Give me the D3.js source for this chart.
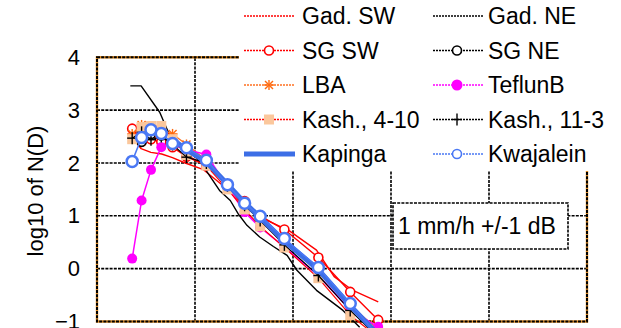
<!DOCTYPE html>
<html><head><meta charset="utf-8">
<script src="https://cdn.jsdelivr.net/npm/d3@7"></script>
<style>body{margin:0;background:#fff} svg{display:block;font-family:Arial,"Liberation Sans",sans-serif}</style>
</head><body><svg id="c" width="621" height="328"></svg>
<script>
// ---------- data ----------
const yTicks = [-1, 0, 1, 2, 3, 4];
const xTicks = [0, 1, 2, 3, 4, 5];
const yLabel = "log10 of N(D)";
const boxText = "1 mm/h +/-1 dB";
// drop diameter classes (mm)
const dJW = [0.359, 0.455, 0.551, 0.656, 0.771, 0.913, 1.116, 1.331, 1.506, 1.665, 1.912, 2.259, 2.584, 2.869];
const gadSWD = [0.34, 0.45, 0.55, 0.66, 0.77, 0.9, 1.08, 1.3, 1.5, 1.69, 1.96, 2.24, 2.42, 2.6, 2.87];
const gadSW  = [2.55, 2.27, 2.2, 2.17, 2.1, 2.0, 1.88, 1.55, 1.2, 0.95, 0.72, 0.35, -0.15, -0.4, -0.63];
const gadNED = [0.34, 0.45, 0.64, 0.74, 0.87, 1.0, 1.08, 1.25, 1.36, 1.44, 1.53, 1.66, 1.8, 1.94, 2.04, 2.24, 2.51, 2.68];
const gadNE  = [3.46, 3.46, 2.96, 2.53, 2.32, 2.12, 1.95, 1.48, 1.29, 1.04, 0.82, 0.6, 0.42, 0.25, -0.03, -0.41, -0.79, -1.11];
const sgSW   = [2.65, 2.4, 2.45, 2.4, 2.3, 2.12, 1.95, 1.6, 1.28, 1.0, 0.74, 0.21, -0.44, -0.97];
const sgNE   = [2.4, 2.55, 2.52, 2.35, 2.25, 2.03, 1.56, 1.22, 0.96, 0.54, 0.0, -0.68, -1.25];
const lba    = [2.55, 2.72, 2.65, 2.62, 2.55, 2.35, 2.05, 1.6, 1.25, 0.95, 0.5, -0.05, -0.7, -1.15];
const teflunB= [0.19, 1.29, 1.87, 2.3, 2.35, 2.25, 2.16, 1.55, 1.07, 0.78, 0.41, -0.13, -0.78, -1.1];
const kash410= [2.45, 2.68, 2.7, 2.7, 2.45, 2.15, 1.95, 1.5, 1.12, 0.8, 0.4, -0.18, -0.88, -1.3];
const kash113= [2.47, 2.58, 2.44, 2.5, 2.35, 2.11, 2.0, 1.57, 1.2, 0.91, 0.45, -0.13, -0.79, -1.3];
const kapinga= [2.45, 2.25, 2.02, 1.6, 1.25, 0.97, 0.52, -0.02, -0.7, -1.25];
const kwaj   = [2.03, 2.48, 2.63, 2.56, 2.37, 2.29, 2.05, 1.59, 1.24, 0.99, 0.57, 0.02, -0.66, -1.27];

// ---------- layout ----------
const svg = d3.select("#c");
const x = d3.scaleLinear().domain([0, 5]).range([97, 587]);
const y = d3.scaleLinear().domain([-1, 4]).range([321.5, 57.3]);

const series = [
  {name:"Gad. SW", d:gadSWD, v:gadSW, color:"#ff0000", w:1.4, marker:null, col:0},
  {name:"Gad. NE", d:gadNED, v:gadNE, color:"#000000", w:1.4, marker:null, col:1},
  {name:"SG SW", d:dJW, v:sgSW, color:"#ff0000", w:1.4, marker:"ocircle", mcol:"#ff0000", r:4.5, col:0},
  {name:"SG NE", d:dJW.slice(1), v:sgNE, color:"#000000", w:1.2, marker:"ocircle", mcol:"#000000", r:4.5, col:1},
  {name:"LBA", d:dJW, v:lba, color:"#ff7020", w:1.3, marker:"star", mcol:"#ff6a10", col:0},
  {name:"TeflunB", d:dJW, v:teflunB, color:"#ff00ff", w:1.5, marker:"fcircle", mcol:"#ff00ff", r:5, col:1},
  {name:"Kash., 4-10", d:dJW, v:kash410, color:"#ff0000", w:1.2, marker:"square", mcol:"#fbc79c", col:0},
  {name:"Kash., 11-3", d:dJW, v:kash113, color:"#000000", w:1.2, marker:"plus", mcol:"#000000", col:1},
  {name:"Kapinga", d:dJW.slice(4), v:kapinga, color:"#3c6ee6", w:5, marker:null, col:0, solid:true},
  {name:"Kwajalein", d:dJW, v:kwaj, color:"#4a78f4", w:1.5, marker:"ocircle", mcol:"#4a78f4", r:5.5, mw:2.5, col:1}
];

// gridlines
const grid = svg.append("g");
yTicks.slice(1, -1).forEach(t => grid.append("line")
  .attr("x1", x(0)).attr("x2", x(5)).attr("y1", y(t)).attr("y2", y(t))
  .attr("stroke", "#000").attr("stroke-width", 1.6).attr("stroke-dasharray", "3,1.2"));
xTicks.slice(1, -1).forEach(t => grid.append("line")
  .attr("y1", y(-1)).attr("y2", y(4)).attr("x1", x(t)).attr("x2", x(t))
  .attr("stroke", "#000").attr("stroke-width", 1.6).attr("stroke-dasharray", "3,1.2"));
// frame
svg.append("rect").attr("x", x(0)).attr("y", y(4)).attr("width", x(5) - x(0)).attr("height", y(-1) - y(4))
  .attr("fill", "none").attr("stroke", "#e08a1e").attr("stroke-width", 2.4);
svg.append("rect").attr("x", x(0)).attr("y", y(4)).attr("width", x(5) - x(0)).attr("height", y(-1) - y(4))
  .attr("fill", "none").attr("stroke", "#000").attr("stroke-width", 2).attr("stroke-dasharray", "3,1.2");

// y axis
const yAxis = d3.axisLeft(y).tickValues(yTicks).tickSize(0).tickPadding(17).tickFormat(d3.format("d"));
const ya = svg.append("g").attr("transform", `translate(${x(0)},0)`).call(yAxis);
ya.select(".domain").remove();
ya.selectAll("text").attr("font-size", 22).attr("fill", "#000")
  .attr("font-family", "Arial, 'Liberation Sans', sans-serif");
svg.append("text").attr("transform", "translate(43,191) rotate(-90)")
  .attr("text-anchor", "middle").attr("font-size", 22).text(yLabel);

function drawMarker(g, type, cx, cy, s) {
  const c = s.mcol, r = s.r || 5;
  if (type === "ocircle") g.append("circle").attr("cx", cx).attr("cy", cy).attr("r", r)
      .attr("fill", "#fff").attr("stroke", c).attr("stroke-width", s.mw || 1.6);
  else if (type === "fcircle") g.append("circle").attr("cx", cx).attr("cy", cy).attr("r", r).attr("fill", c);
  else if (type === "square") g.append("rect").attr("x", cx - 5).attr("y", cy - 5).attr("width", 10).attr("height", 10).attr("fill", c);
  else if (type === "plus") {
    g.append("line").attr("x1", cx - 5).attr("x2", cx + 5).attr("y1", cy).attr("y2", cy).attr("stroke", c).attr("stroke-width", 1.4);
    g.append("line").attr("x1", cx).attr("x2", cx).attr("y1", cy - 6).attr("y2", cy + 6).attr("stroke", c).attr("stroke-width", 1.4);
  } else if (type === "star") {
    [[-5,0,5,0],[0,-5,0,5],[-4,-4,4,4],[-4,4,4,-4]].forEach(p => g.append("line")
      .attr("x1", cx + p[0]).attr("y1", cy + p[1]).attr("x2", cx + p[2]).attr("y2", cy + p[3])
      .attr("stroke", c).attr("stroke-width", 1.4));
  }
}

// series
const line = d3.line().x(p => x(p[0])).y(p => y(p[1]));
const plot = svg.append("g");
series.forEach(s => {
  const pts = s.d.map((d, i) => [d, s.v[i]]);
  plot.append("path").attr("d", line(pts)).attr("fill", "none")
    .attr("stroke", s.color).attr("stroke-width", s.w).attr("stroke-linejoin", "round");
  if (s.marker) {
    const mg = plot.append("g");
    pts.forEach(p => drawMarker(mg, s.marker, x(p[0]), y(p[1]), s));
  }
});

// legend
const lg = svg.append("g");
lg.append("rect").attr("x", 239).attr("y", 0).attr("width", 382).attr("height", 171).attr("fill", "#fff");
const rowY = [16, 50.5, 85, 119.5, 154];
const colX = [{x1:244, x2:295, m:269, t:302}, {x1:433, x2:483, m:457, t:488}];
const count = [0, 0];
series.forEach(s => {
  const c = colX[s.col], ry = rowY[count[s.col]++];
  lg.append("line").attr("x1", c.x1).attr("x2", c.x2).attr("y1", ry).attr("y2", ry)
    .attr("stroke", s.color).attr("stroke-width", s.solid ? 5 : 1.3)
    .attr("stroke-dasharray", s.solid ? null : "2,1");
  if (s.marker) {
    const ls = Object.assign({}, s, {r: s.marker === "fcircle" ? 5.5 : 4.5, mw: 1.6});
    drawMarker(lg, s.marker, c.m, ry, ls);
  }
  lg.append("text").attr("x", c.t).attr("y", ry + 8).attr("font-size", 23).text(s.name);
});

// annotation box
svg.append("rect").attr("x", 393).attr("y", 203).attr("width", 175).attr("height", 46)
  .attr("fill", "#fff").attr("stroke", "#000").attr("stroke-width", 1.6).attr("stroke-dasharray", "3,1.2");
svg.append("text").attr("x", 398).attr("y", 234).attr("font-size", 23).text(boxText);
</script></body></html>
